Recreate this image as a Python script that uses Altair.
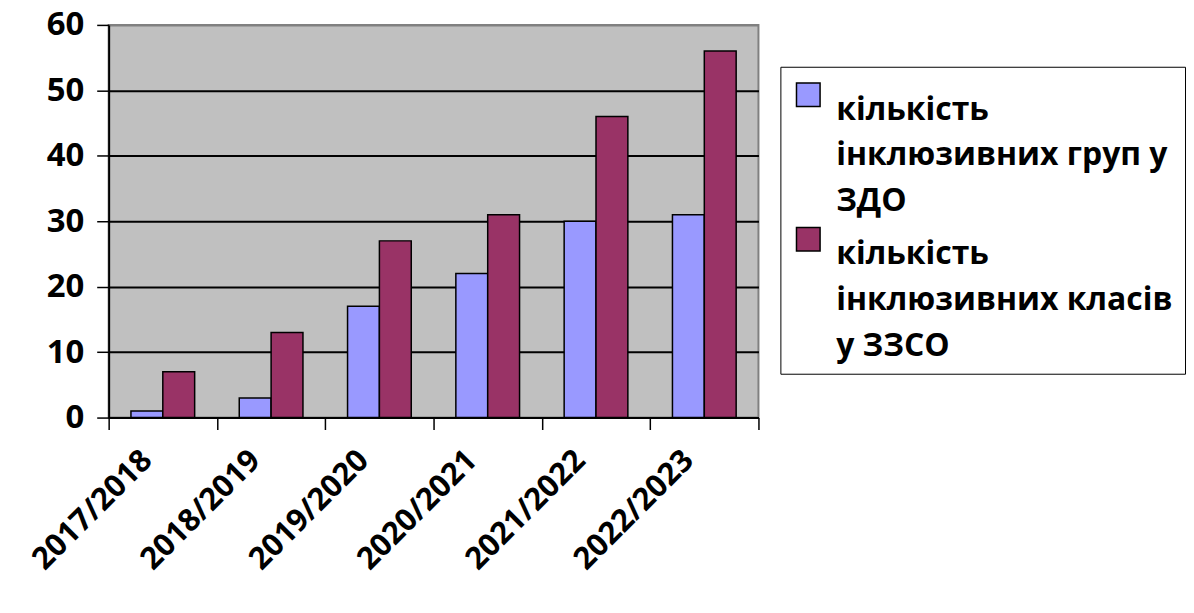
import altair as alt
import pandas as pd

years = ["2017/2018", "2018/2019", "2019/2020", "2020/2021", "2021/2022", "2022/2023"]
series = ["кількість інклюзивних груп у ЗДО", "кількість інклюзивних класів у ЗЗСО"]
series_lines = [["кількість", "інклюзивних груп у", "ЗДО"],
                ["кількість", "інклюзивних класів", "у ЗЗСО"]]
groups_zdo = [1, 3, 17, 22, 30, 31]
classes_zzso = [7, 13, 27, 31, 46, 56]
colors = ["#9999FF", "#993366"]
y_ticks = [0, 10, 20, 30, 40, 50, 60]

rows = []
for i, y in enumerate(years):
    rows.append({"year": y, "series": series[0], "value": groups_zdo[i]})
    rows.append({"year": y, "series": series[1], "value": classes_zzso[i]})
df = pd.DataFrame(rows)

label_map = "{" + ", ".join(
    "'" + s + "': [" + ", ".join("'" + l + "'" for l in ls) + "]"
    for s, ls in zip(series, series_lines)) + "}"

FONT = "Open Sans"

chart = alt.Chart(df).mark_bar(stroke="black", strokeWidth=1.5).encode(
    x=alt.X("year:N", sort=years,
            scale=alt.Scale(paddingInner=0, paddingOuter=0),
            axis=alt.Axis(title=None, labelAngle=-45, labelAlign="right",
                          labelBaseline="middle", tickBand="extent",
                          domainColor="black", domainWidth=2,
                          tickColor="black", tickWidth=1.5, tickSize=12,
                          labelFont=FONT, labelFontSize=31, labelFontWeight="bold",
                          labelColor="black", labelPadding=26, labelOffset=-16,
                          labelLineHeight=26)),
    xOffset=alt.XOffset("series:N", sort=series,
                        scale=alt.Scale(paddingInner=0, paddingOuter=0.7)),
    y=alt.Y("value:Q", scale=alt.Scale(domain=[0, 60], nice=False),
            axis=alt.Axis(title=None, values=y_ticks, grid=True,
                          gridColor=alt.condition("datum.value == 60", alt.value("#808080"), alt.value("black")),
                          gridWidth=2,
                          domainColor="black", domainWidth=2,
                          tickColor="black", tickWidth=1.5, tickSize=12,
                          labelFont=FONT, labelFontSize=33, labelFontWeight="bold",
                          labelColor="black", labelPadding=13, labelLineHeight=28)),
    color=alt.Color("series:N", sort=series,
                    scale=alt.Scale(domain=series, range=colors),
                    legend=alt.Legend(title=None, orient="none", legendX=674, legendY=42,
                                      labelExpr=label_map + "[datum.label]",
                                      labelFont=FONT, labelFontSize=32, labelFontWeight="bold",
                                      labelColor="black", labelLimit=0, labelBaseline="top",
                                      labelOffset=12,
                                      symbolType="square", symbolSize=560,
                                      symbolStrokeColor="black", symbolStrokeWidth=1.5,
                                      symbolOpacity=1,
                                      strokeColor="black", padding=12, rowPadding=6)),
).properties(
    width=652, height=394,
    view=alt.ViewBackground(fill="#C0C0C0", stroke="#808080", strokeWidth=2),
    padding={"left": 18, "top": 0, "right": 0, "bottom": 0},
).configure(
    style={"guide-label": {"lineHeight": 46}}
)

chart.save("out.html", embed_options={"renderer": "svg", "actions": False})
